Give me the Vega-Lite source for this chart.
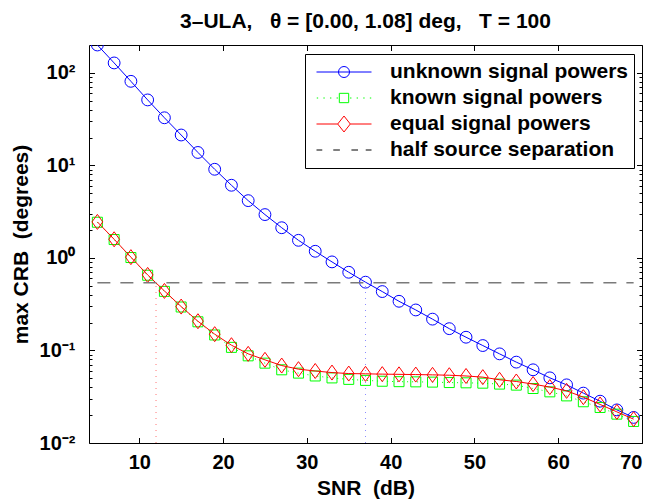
{
  "$schema": "https://vega.github.io/schema/vega-lite/v6.json",
  "width": 553,
  "height": 398,
  "autosize": {"type": "none"},
  "padding": {"left": 89, "top": 45, "right": 27, "bottom": 57},
  "background": "white",
  "config": {
    "font": "Liberation Sans",
    "view": {"stroke": "black", "strokeWidth": 1},
    "axis": {
      "labelFont": "Liberation Sans", "labelFontWeight": "bold", "labelFontSize": 20, "labelColor": "black",
      "titleFont": "Liberation Sans", "titleFontWeight": "bold", "titleFontSize": 21, "titleColor": "black",
      "domain": false, "grid": false, "tickColor": "black", "tickWidth": 1
    }
  },
  "title": {
    "text": "3–ULA,\u00a0\u00a0\u00a0θ = [0.00, 1.08] deg,\u00a0\u00a0\u00a0T = 100",
    "font": "Liberation Sans", "fontSize": 21, "fontWeight": "bold", "color": "black",
    "anchor": "middle", "offset": 13
  },
  "datasets": {
    "crb": [
      {"snr": 5, "v": 200, "s": "u"}, {"snr": 7, "v": 128, "s": "u"}, {"snr": 9, "v": 81, "s": "u"},
      {"snr": 11, "v": 51, "s": "u"}, {"snr": 13, "v": 32.7, "s": "u"}, {"snr": 15, "v": 21.3, "s": "u"},
      {"snr": 17, "v": 13.8, "s": "u"}, {"snr": 19, "v": 9.08, "s": "u"}, {"snr": 21, "v": 6.1, "s": "u"},
      {"snr": 23, "v": 4.16, "s": "u"}, {"snr": 25, "v": 2.94, "s": "u"}, {"snr": 27, "v": 2.12, "s": "u"},
      {"snr": 29, "v": 1.55, "s": "u"}, {"snr": 31, "v": 1.18, "s": "u"}, {"snr": 33, "v": 0.906, "s": "u"},
      {"snr": 35, "v": 0.70, "s": "u"}, {"snr": 37, "v": 0.547, "s": "u"}, {"snr": 39, "v": 0.433, "s": "u"},
      {"snr": 41, "v": 0.340, "s": "u"}, {"snr": 43, "v": 0.274, "s": "u"}, {"snr": 45, "v": 0.218, "s": "u"},
      {"snr": 47, "v": 0.172, "s": "u"}, {"snr": 49, "v": 0.139, "s": "u"}, {"snr": 51, "v": 0.113, "s": "u"},
      {"snr": 53, "v": 0.0919, "s": "u"}, {"snr": 55, "v": 0.0748, "s": "u"}, {"snr": 57, "v": 0.0618, "s": "u"},
      {"snr": 59, "v": 0.0506, "s": "u"}, {"snr": 61, "v": 0.0425, "s": "u"}, {"snr": 63, "v": 0.0346, "s": "u"},
      {"snr": 65, "v": 0.0283, "s": "u"}, {"snr": 67, "v": 0.0228, "s": "u"}, {"snr": 69, "v": 0.0189, "s": "u"},

      {"snr": 5, "v": 2.43, "s": "k"}, {"snr": 7, "v": 1.58, "s": "k"}, {"snr": 9, "v": 1.01, "s": "k"},
      {"snr": 11, "v": 0.65, "s": "k"}, {"snr": 13, "v": 0.435, "s": "k"}, {"snr": 15, "v": 0.295, "s": "k"},
      {"snr": 17, "v": 0.204, "s": "k"}, {"snr": 19, "v": 0.147, "s": "k"}, {"snr": 21, "v": 0.108, "s": "k"},
      {"snr": 23, "v": 0.0875, "s": "k"}, {"snr": 25, "v": 0.0729, "s": "k"}, {"snr": 27, "v": 0.0618, "s": "k"},
      {"snr": 29, "v": 0.0569, "s": "k"}, {"snr": 31, "v": 0.0530, "s": "k"}, {"snr": 33, "v": 0.0505, "s": "k"},
      {"snr": 35, "v": 0.0487, "s": "k"}, {"snr": 37, "v": 0.0475, "s": "k"}, {"snr": 39, "v": 0.0465, "s": "k"},
      {"snr": 41, "v": 0.0460, "s": "k"}, {"snr": 43, "v": 0.0458, "s": "k"}, {"snr": 45, "v": 0.0455, "s": "k"},
      {"snr": 47, "v": 0.0450, "s": "k"}, {"snr": 49, "v": 0.0447, "s": "k"}, {"snr": 51, "v": 0.0443, "s": "k"},
      {"snr": 53, "v": 0.0433, "s": "k"}, {"snr": 55, "v": 0.0422, "s": "k"}, {"snr": 57, "v": 0.0388, "s": "k"},
      {"snr": 59, "v": 0.0357, "s": "k"}, {"snr": 61, "v": 0.0323, "s": "k"}, {"snr": 63, "v": 0.0279, "s": "k"},
      {"snr": 65, "v": 0.0242, "s": "k"}, {"snr": 67, "v": 0.0205, "s": "k"}, {"snr": 69, "v": 0.0171, "s": "k"},

      {"snr": 5, "v": 2.45, "s": "e"}, {"snr": 7, "v": 1.59, "s": "e"}, {"snr": 9, "v": 1.02, "s": "e"},
      {"snr": 11, "v": 0.655, "s": "e"}, {"snr": 13, "v": 0.44, "s": "e"}, {"snr": 15, "v": 0.298, "s": "e"},
      {"snr": 17, "v": 0.207, "s": "e"}, {"snr": 19, "v": 0.150, "s": "e"}, {"snr": 21, "v": 0.114, "s": "e"},
      {"snr": 23, "v": 0.0919, "s": "e"}, {"snr": 25, "v": 0.0792, "s": "e"}, {"snr": 27, "v": 0.0687, "s": "e"},
      {"snr": 29, "v": 0.0628, "s": "e"}, {"snr": 31, "v": 0.0600, "s": "e"}, {"snr": 33, "v": 0.0577, "s": "e"},
      {"snr": 35, "v": 0.0563, "s": "e"}, {"snr": 37, "v": 0.0559, "s": "e"}, {"snr": 39, "v": 0.0555, "s": "e"},
      {"snr": 41, "v": 0.0552, "s": "e"}, {"snr": 43, "v": 0.0549, "s": "e"}, {"snr": 45, "v": 0.0545, "s": "e"},
      {"snr": 47, "v": 0.0540, "s": "e"}, {"snr": 49, "v": 0.0530, "s": "e"}, {"snr": 51, "v": 0.0515, "s": "e"},
      {"snr": 53, "v": 0.0482, "s": "e"}, {"snr": 55, "v": 0.0462, "s": "e"}, {"snr": 57, "v": 0.0433, "s": "e"},
      {"snr": 59, "v": 0.0402, "s": "e"}, {"snr": 61, "v": 0.0366, "s": "e"}, {"snr": 63, "v": 0.0313, "s": "e"},
      {"snr": 65, "v": 0.0261, "s": "e"}, {"snr": 67, "v": 0.0217, "s": "e"}, {"snr": 69, "v": 0.0181, "s": "e"}
    ],
    "ref": [
      {"kind": "h", "x": 5, "x2": 69, "y": 0.54},
      {"kind": "r", "x": 12, "y": 0.01, "y2": 0.54},
      {"kind": "b", "x": 37, "y": 0.01, "y2": 0.54}
    ],
    "leg": [
      {"s": "unknown signal powers"},
      {"s": "known signal powers"},
      {"s": "equal signal powers"},
      {"s": "half source separation"}
    ]
  },
  "resolve": {"axis": {"x": "independent", "y": "independent"}},
  "layer": [
    {
      "data": {"name": "crb"},
      "transform": [{"filter": "datum.s === 'u'"}],
      "mark": {"type": "line", "color": "#0000ff", "strokeWidth": 1, "clip": true},
      "encoding": {
        "x": {"field": "snr", "type": "quantitative",
          "scale": {"domain": [4, 70], "nice": false, "zero": false},
          "axis": {"orient": "bottom", "values": [10, 20, 30, 40, 50, 60, 70], "offset": -5.5, "tickSize": 5.5,
            "labelPadding": 9, "title": "SNR\u00a0\u00a0(dB)", "titlePadding": 5}},
        "y": {"field": "v", "type": "quantitative",
          "scale": {"type": "log", "domain": [0.01, 200], "nice": false},
          "axis": {"orient": "left", "values": [0.01, 0.1, 1, 10, 100], "offset": -5.5, "tickSize": 5.5,
            "labelPadding": 14,
            "labelExpr": "datum.value == 100 ? '10²' : datum.value == 10 ? '10¹' : datum.value == 1 ? '10⁰' : datum.value == 0.1 ? '10⁻¹' : '10⁻²'",
            "title": "max CRB\u00a0\u00a0(degrees)", "titlePadding": 8}}
      }
    },
    {
      "data": {"name": "crb"},
      "transform": [{"filter": "datum.s === 'u'"}],
      "mark": {"type": "point", "shape": "circle", "filled": false, "color": "#0000ff", "size": 140, "strokeWidth": 1, "opacity": 1, "clip": true},
      "encoding": {
        "x": {"field": "snr", "type": "quantitative",
          "axis": {"orient": "top", "values": [10, 20, 30, 40, 50, 60, 70], "offset": -5.5, "tickSize": 5.5, "labels": false, "title": null}},
        "y": {"field": "v", "type": "quantitative",
          "axis": {"orient": "right", "values": [0.01, 0.1, 1, 10, 100], "offset": -5.5, "tickSize": 5.5, "labels": false, "title": null}}
      }
    },
    {
      "data": {"name": "crb"},
      "transform": [{"filter": "datum.s === 'k'"}],
      "mark": {"type": "line", "color": "#00ff00", "strokeWidth": 1, "strokeDash": [1, 4], "clip": true},
      "encoding": {
        "x": {"field": "snr", "type": "quantitative", "axis": null},
        "y": {"field": "v", "type": "quantitative",
          "axis": {"orient": "left", "values": [0.02, 0.03, 0.04, 0.05, 0.06, 0.07, 0.08, 0.09, 0.2, 0.3, 0.4, 0.5, 0.6, 0.7, 0.8, 0.9, 2, 3, 4, 5, 6, 7, 8, 9, 20, 30, 40, 50, 60, 70, 80, 90],
            "offset": -3, "tickSize": 3, "labels": false, "title": null}}
      }
    },
    {
      "data": {"name": "crb"},
      "transform": [{"filter": "datum.s === 'k'"}],
      "mark": {"type": "point", "shape": "square", "filled": false, "color": "#00ff00", "size": 100, "strokeWidth": 1, "opacity": 1, "clip": true},
      "encoding": {
        "x": {"field": "snr", "type": "quantitative", "axis": null},
        "y": {"field": "v", "type": "quantitative",
          "axis": {"orient": "right", "values": [0.02, 0.03, 0.04, 0.05, 0.06, 0.07, 0.08, 0.09, 0.2, 0.3, 0.4, 0.5, 0.6, 0.7, 0.8, 0.9, 2, 3, 4, 5, 6, 7, 8, 9, 20, 30, 40, 50, 60, 70, 80, 90],
            "offset": -3, "tickSize": 3, "labels": false, "title": null}}
      }
    },
    {
      "data": {"name": "crb"},
      "transform": [{"filter": "datum.s === 'e'"}],
      "mark": {"type": "line", "color": "#ff0000", "strokeWidth": 1, "clip": true},
      "encoding": {
        "x": {"field": "snr", "type": "quantitative", "axis": null},
        "y": {"field": "v", "type": "quantitative", "axis": null}
      }
    },
    {
      "data": {"name": "crb"},
      "transform": [{"filter": "datum.s === 'e'"}],
      "mark": {"type": "point", "shape": "M-0.72,0L0,-1L0.72,0L0,1Z", "filled": false, "color": "#ff0000", "size": 225, "strokeWidth": 1, "opacity": 1, "clip": true},
      "encoding": {
        "x": {"field": "snr", "type": "quantitative", "axis": null},
        "y": {"field": "v", "type": "quantitative", "axis": null}
      }
    },
    {
      "data": {"name": "ref"},
      "transform": [{"filter": "datum.kind === 'h'"}],
      "mark": {"type": "rule", "color": "#7a7a7a", "strokeWidth": 1.6, "strokeDash": [13, 10]},
      "encoding": {
        "x": {"field": "x", "type": "quantitative", "axis": null},
        "x2": {"field": "x2"},
        "y": {"field": "y", "type": "quantitative", "axis": null}
      }
    },
    {
      "data": {"name": "ref"},
      "transform": [{"filter": "datum.kind === 'r'"}],
      "mark": {"type": "rule", "color": "#ff0000", "opacity": 0.55, "strokeWidth": 1, "strokeDash": [1, 5]},
      "encoding": {
        "x": {"field": "x", "type": "quantitative", "axis": null},
        "y": {"field": "y", "type": "quantitative", "axis": null},
        "y2": {"field": "y2"}
      }
    },
    {
      "data": {"name": "ref"},
      "transform": [{"filter": "datum.kind === 'b'"}],
      "mark": {"type": "rule", "color": "#0000ff", "opacity": 0.45, "strokeWidth": 1, "strokeDash": [1, 5]},
      "encoding": {
        "x": {"field": "x", "type": "quantitative", "axis": null},
        "y": {"field": "y", "type": "quantitative", "axis": null},
        "y2": {"field": "y2"}
      }
    },
    {
      "data": {"name": "leg"},
      "mark": {"type": "point", "filled": false, "opacity": 0},
      "encoding": {
        "x": {"datum": 10, "type": "quantitative", "axis": null},
        "y": {"datum": 1, "type": "quantitative", "axis": null},
        "shape": {"field": "s", "type": "nominal",
          "scale": {
            "domain": ["unknown signal powers", "known signal powers", "equal signal powers", "half source separation"],
            "range": [
              "M-1,0H1M-0.2,0A0.2,0.2,0,1,1,0.2,0A0.2,0.2,0,1,1,-0.2,0",
              "M-0.99,0h0.05M-0.75,0h0.05M-0.51,0h0.05M-0.27,0h0.05M0.22,0h0.05M0.46,0h0.05M0.70,0h0.05M0.94,0h0.05M-0.17,-0.17H0.17V0.17H-0.17Z",
              "M-1,0H-0.23M0.23,0H1M-0.23,0L0,-0.29L0.23,0L0,0.29Z",
              "M-1,0H-0.79M-0.39,0H-0.15M0.27,0H0.51M0.79,0H1"
            ]},
          "legend": {
            "title": null, "orient": "none", "legendX": 216, "legendY": 9,
            "fillColor": "white", "strokeColor": "black", "padding": 5,
            "labelFont": "Liberation Sans", "labelFontSize": 21, "labelFontWeight": "bold", "labelColor": "black",
            "labelLimit": 400, "labelOffset": 18,
            "symbolSize": 3025, "symbolStrokeWidth": 1, "symbolOpacity": 1, "symbolOffset": 6,
            "symbolFillColor": "transparent",
            "clipHeight": 26, "rowPadding": 0
          }},
        "stroke": {"field": "s", "type": "nominal",
          "scale": {
            "domain": ["unknown signal powers", "known signal powers", "equal signal powers", "half source separation"],
            "range": ["#0000ff", "#00ff00", "#ff0000", "#000000"]},
          "legend": {
            "title": null, "orient": "none", "legendX": 216, "legendY": 9,
            "fillColor": "white", "strokeColor": "black", "padding": 5,
            "labelFont": "Liberation Sans", "labelFontSize": 21, "labelFontWeight": "bold", "labelColor": "black",
            "labelLimit": 400, "labelOffset": 18,
            "symbolSize": 3025, "symbolStrokeWidth": 1, "symbolOpacity": 1, "symbolOffset": 6,
            "symbolFillColor": "transparent",
            "clipHeight": 26, "rowPadding": 0
          }}
      }
    }
  ]
}
